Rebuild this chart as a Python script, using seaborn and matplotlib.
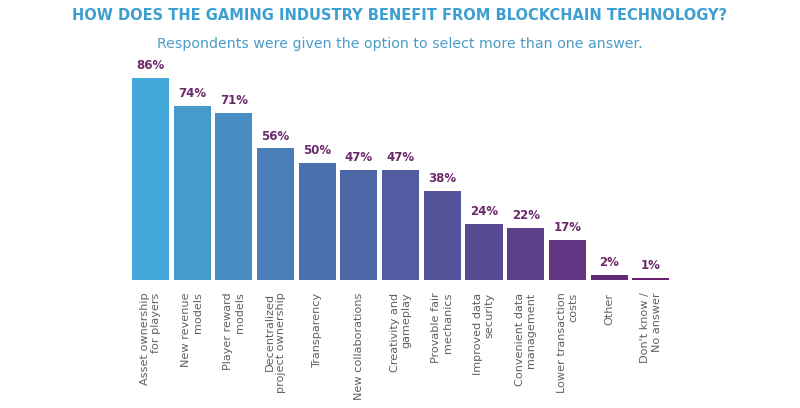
import matplotlib
matplotlib.use("Agg")
import matplotlib.pyplot as plt
import seaborn as sns
import pandas as pd
import numpy as np
from matplotlib.colors import LinearSegmentedColormap

categories = [
    "Asset ownership\nfor players",
    "New revenue\nmodels",
    "Player reward\nmodels",
    "Decentralized\nproject ownership",
    "Transparency",
    "New collaborations",
    "Creativity and\ngameplay",
    "Provable fair\nmechanics",
    "Improved data\nsecurity",
    "Convenient data\nmanagement",
    "Lower transaction\ncosts",
    "Other",
    "Don't know /\nNo answer",
]
values = [86, 74, 71, 56, 50, 47, 47, 38, 24, 22, 17, 2, 1]
value_labels = ["86%", "74%", "71%", "56%", "50%", "47%", "47%", "38%", "24%", "22%", "17%", "2%", "1%"]

title = "HOW DOES THE GAMING INDUSTRY BENEFIT FROM BLOCKCHAIN TECHNOLOGY?"
subtitle = "Respondents were given the option to select more than one answer."

sns.set_theme(style="white")
plt.rcParams["font.family"] = ["DejaVu Sans"]

cmap = LinearSegmentedColormap.from_list("grad", ["#44A8D8", "#4A70AE", "#574A92", "#6A2070"])
n = len(values)
colors = [cmap(i / (n - 1)) for i in range(n)]

df = pd.DataFrame({"cat": categories, "val": values})

fig = plt.figure(figsize=(8, 4.08), dpi=100)
ax = fig.add_axes([0.162, 0.3137, 0.6775, 0.576])
sns.barplot(data=df, x="cat", y="val", hue="cat", palette=colors, legend=False,
            width=0.89, ax=ax, saturation=1, linewidth=0)
ax.set_ylim(0, 100)
ax.set_xlim(-0.5, n - 0.5)
for s in ax.spines.values():
    s.set_visible(False)
ax.set_yticks([])
ax.set_xlabel("")
ax.set_ylabel("")
ax.tick_params(axis="x", length=0, pad=9)
ax.set_xticks(range(n))
ax.set_xticklabels(categories, rotation=90, ha="center", va="top",
                   fontsize=8.1, color="#606060", multialignment="right")

for i, (v, lab) in enumerate(zip(values, value_labels)):
    ax.text(i, v + 2.5, lab, ha="center", va="bottom", fontsize=8.5,
            fontweight="bold", color="#6B2A6B")

fig.text(0.5, 0.963, title, ha="center", va="center", fontsize=10.5,
         fontweight="bold", color="#3C9FD0")
fig.text(0.5, 0.893, subtitle, ha="center", va="center", fontsize=10.2,
         color="#4B9CC8")

fig.savefig("out.png", dpi=100)
